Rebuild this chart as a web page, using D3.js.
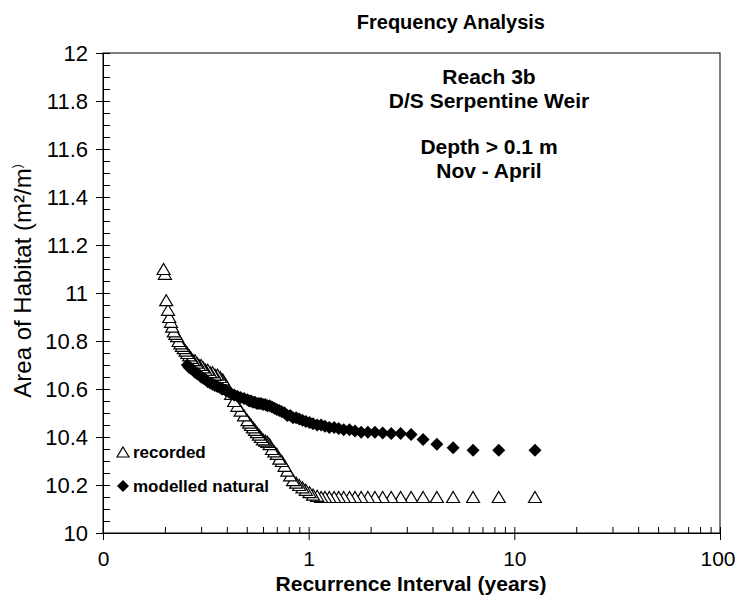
<!DOCTYPE html>
<html><head><meta charset="utf-8">
<script src="https://cdn.jsdelivr.net/npm/d3@7"></script>
<style>body{margin:0;background:#fff}svg{display:block}</style>
</head><body>
<svg id="c" width="736" height="601"></svg>
<script>
// Recurrence interval (years) of each ranked point
const intervals = [12.6, 8.4, 6.3, 5.04, 4.2, 3.6, 3.15, 2.8, 2.52, 2.29, 2.1, 1.94, 1.8, 1.68, 1.58, 1.48, 1.4, 1.33, 1.26, 1.2,
  1.15, 1.1, 1.05, 1.01, 0.969, 0.933, 0.9, 0.869, 0.84, 0.813, 0.7875, 0.764, 0.741, 0.72, 0.7, 0.681, 0.663, 0.646, 0.63, 0.615,
  0.6, 0.586, 0.573, 0.56, 0.548, 0.536, 0.525, 0.514, 0.504, 0.485, 0.467, 0.45, 0.434, 0.42, 0.406, 0.394, 0.382, 0.371, 0.36, 0.35,
  0.341, 0.332, 0.323, 0.315, 0.307, 0.3, 0.293, 0.286, 0.28, 0.274, 0.268, 0.2625, 0.257, 0.252, 0.247, 0.242, 0.238, 0.233, 0.229, 0.225,
  0.221, 0.217, 0.214, 0.21, 0.207, 0.203, 0.2, 0.197];
// Area of habitat, recorded flows
const recorded = [10.15, 10.15, 10.15, 10.15, 10.15, 10.15, 10.15, 10.15, 10.15, 10.15, 10.15, 10.15, 10.15, 10.15, 10.15, 10.15, 10.15, 10.15, 10.15, 10.15,
  10.15, 10.155, 10.16, 10.17, 10.18, 10.19, 10.2, 10.21, 10.22, 10.24, 10.26, 10.28, 10.3, 10.31, 10.33, 10.34, 10.35, 10.37, 10.38, 10.385,
  10.39, 10.4, 10.41, 10.42, 10.43, 10.44, 10.45, 10.46, 10.47, 10.49, 10.51, 10.53, 10.55, 10.58, 10.6, 10.62, 10.64, 10.65, 10.66, 10.66,
  10.67, 10.67, 10.68, 10.68, 10.69, 10.7, 10.7, 10.71, 10.72, 10.72, 10.73, 10.74, 10.75, 10.76, 10.77, 10.78, 10.79, 10.8, 10.82, 10.83,
  10.84, 10.86, 10.88, 10.9, 10.93, 10.97, 11.08, 11.1];
// Area of habitat, modelled natural flows
const modelled = [10.345, 10.345, 10.345, 10.355, 10.37, 10.39, 10.41, 10.415, 10.415, 10.417, 10.42, 10.42, 10.42, 10.425, 10.43, 10.43, 10.435, 10.44, 10.44, 10.445,
  10.45, 10.45, 10.455, 10.46, 10.465, 10.47, 10.475, 10.48, 10.48, 10.49, 10.49, 10.5, 10.505, 10.51, 10.515, 10.52, 10.525, 10.53, 10.53, 10.535,
  10.535, 10.54, 10.54, 10.54, 10.545, 10.545, 10.55, 10.55, 10.555, 10.56, 10.565, 10.57, 10.575, 10.58, 10.59, 10.595, 10.6, 10.605, 10.61, 10.615,
  10.62, 10.625, 10.63, 10.64, 10.645, 10.65, 10.66, 10.665, 10.67, 10.68, 10.685, 10.69, 10.70, null, null, null, null, null, null, null,
  null, null, null, null, null, null, null, null];

const yTicks = [10, 10.2, 10.4, 10.6, 10.8, 11, 11.2, 11.4, 11.6, 11.8, 12];
const xTicks = [0.1, 1, 10, 100];
const xTickLabels = ["0", "1", "10", "100"];
const titleText = "Frequency Analysis";
const noteLines = ["Reach 3b", "D/S Serpentine Weir", "", "Depth > 0.1 m", "Nov - April"];
const seriesNames = ["recorded", "modelled natural"];

const svg = d3.select("#c");
const L = 103, R = 720, T = 53, B = 533;
const x = d3.scaleLog().domain([0.1, 100]).range([L, R]);
const y = d3.scaleLinear().domain([10, 12]).range([B, T]);
const font = "'Liberation Sans', Arial, sans-serif";

// plot border
svg.append("rect").attr("x", L).attr("y", T).attr("width", R - L).attr("height", B - T)
  .attr("fill", "none").attr("stroke", "#000").attr("stroke-width", 1);

// y axis: outer major ticks with labels, inner minor ticks
const yMinor = y.ticks(50);
svg.append("g").attr("transform", `translate(${L},0)`)
  .call(d3.axisLeft(y).tickValues(yTicks).tickSize(7).tickPadding(8).tickFormat(d => d3.format("~g")(d)))
  .selectAll(".tick text").attr("font-size", 22);
svg.append("g").attr("transform", `translate(${L},0)`)
  .call(d3.axisRight(y).tickValues(yMinor).tickSize(7).tickFormat(""));

// x axis
const xMinor = [];
[0.1, 1, 10].forEach(dec => { for (let k = 1; k <= 9; k++) xMinor.push(dec * k); });
xMinor.push(100);
const gx = svg.append("g").attr("transform", `translate(0,${B})`)
  .call(d3.axisBottom(x).tickValues(xTicks).tickSize(7).tickPadding(11).tickFormat((d, i) => xTickLabels[i]));
gx.selectAll(".tick text").attr("font-size", 21);
gx.selectAll(".tick text").filter(d => d === 100).attr("text-anchor", "end").attr("dx", 15);
svg.append("g").attr("transform", `translate(0,${B})`)
  .call(d3.axisTop(x).tickValues(xMinor).tickSize(6).tickFormat(""));

svg.selectAll(".domain").attr("stroke", "#000");
svg.selectAll(".tick line").attr("stroke", "#000");
svg.selectAll(".tick text").attr("font-family", font).attr("fill", "#000");

// markers
const triPath = "M0,-5.5L6.5,5.5L-6.5,5.5Z";
const diaPath = "M0,-6.5L6.5,0L0,6.5L-6.5,0Z";
const recPts = intervals.map((t, i) => ({ t, v: recorded[i] }));
const modPts = intervals.map((t, i) => ({ t, v: modelled[i] })).filter(d => d.v != null);

svg.append("g").selectAll("path").data(recPts).join("path")
  .attr("d", triPath).attr("transform", d => `translate(${x(d.t)},${y(d.v)})`)
  .attr("fill", "#fff").attr("stroke", "#000").attr("stroke-width", 1.2);
svg.append("g").selectAll("path").data(modPts).join("path")
  .attr("d", diaPath).attr("transform", d => `translate(${x(d.t)},${y(d.v)})`)
  .attr("fill", "#000");

// legend
const lg = svg.append("g");
lg.append("path").attr("d", "M0,-5L6,5L-6,5Z").attr("transform", "translate(123,452)")
  .attr("fill", "#fff").attr("stroke", "#000").attr("stroke-width", 1.2);
lg.append("path").attr("d", "M0,-6L6,0L0,6L-6,0Z").attr("transform", "translate(123,486)").attr("fill", "#000");
lg.append("text").attr("x", 133).attr("y", 458).text(seriesNames[0]);
lg.append("text").attr("x", 133).attr("y", 492).text(seriesNames[1]);
lg.selectAll("text").attr("font-family", font).attr("font-weight", "bold").attr("font-size", 17);

// title
svg.append("text").attr("x", 545).attr("y", 29).attr("text-anchor", "end")
  .attr("font-family", font).attr("font-weight", "bold").attr("font-size", 20).text(titleText);

// annotation
const ann = svg.append("g");
[84, 108, 0, 154, 178].forEach((yy, i) => {
  if (!noteLines[i]) return;
  ann.append("text").attr("x", 489).attr("y", yy).attr("text-anchor", "middle")
    .attr("font-family", font).attr("font-weight", "bold").attr("font-size", 21).text(noteLines[i]);
});

// axis titles
svg.append("text").attr("x", 411).attr("y", 591).attr("text-anchor", "middle")
  .attr("font-family", font).attr("font-weight", "bold").attr("font-size", 21).text("Recurrence Interval (years)");
const yt = svg.append("text").attr("transform", "translate(31,281) rotate(-90)").attr("text-anchor", "middle")
  .attr("font-family", font).attr("font-size", 24);
yt.append("tspan").text("Area of Habitat (m²/m");
yt.append("tspan").attr("font-size", 12).attr("dy", -10).text(")");
</script>
</body></html>
